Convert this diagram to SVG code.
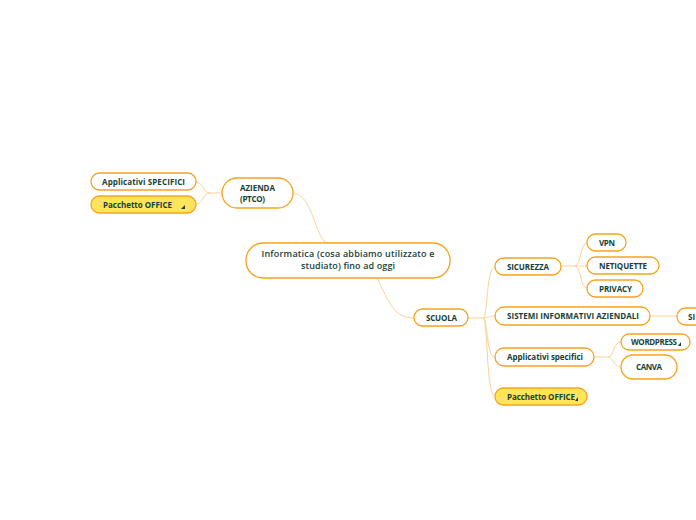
<svg xmlns="http://www.w3.org/2000/svg" width="696" height="520" viewBox="0 0 696 520">
<defs>
<style>
.n{fill:#ffffff;stroke:#f7a21c;stroke-width:1.3}
.y{fill:#ffe45c;stroke:#f7a21c;stroke-width:1.3}
.t{font-family:"Open Sans","Noto Sans",sans-serif;font-weight:700;font-size:8px;fill:#183f39}
.tc{font-family:"Open Sans","Noto Sans",sans-serif;font-weight:600;font-size:9px;fill:#183f39}
.c{fill:none;stroke:#fdd198;stroke-width:1}
.ic{fill:#183f39}
</style>
</defs>
<rect width="696" height="520" fill="#ffffff"/>
<g id="connectors">
<path class="c" d="M293,193 C312,193 316,240 327,243"/>
<path class="c" d="M377,278 C390,305 395,318 414,318"/>
<path class="c" d="M222,193 L210,193 C203,193 203,182 196,182"/>
<path class="c" d="M210,193 C203,193 203,204 196,204"/>
<path class="c" d="M468,318 L483,318 C488,318 486,267 495,267"/>
<path class="c" d="M483,318 C488,318 488,316 495,316"/>
<path class="c" d="M483,318 C488,318 486,357 495,357"/>
<path class="c" d="M483,318 C488,318 486,396 495,396"/>
<path class="c" d="M561,266 L575,266 C581,266 580,243 587,243"/>
<path class="c" d="M575,266 L587,266"/>
<path class="c" d="M575,266 C581,266 580,288 587,288"/>
<path class="c" d="M650,316 L677,316"/>
<path class="c" d="M594,357 L608,357 C614,357 613,342 621,342"/>
<path class="c" d="M608,357 C614,357 613,367 621,367"/>
</g>
<g id="central">
<rect class="n" x="246" y="243" width="204" height="35" rx="17"/>
<text class="tc" x="348" y="257" text-anchor="middle" textLength="173">Informatica (cosa abbiamo utilizzato e</text>
<text class="tc" x="348" y="269" text-anchor="middle" textLength="94">studiato) fino ad oggi</text>
</g>
<g id="azienda">
<rect class="n" x="222" y="178" width="71" height="30" rx="15"/>
<text class="t" x="240" y="191" textLength="35">AZIENDA</text>
<text class="t" x="240" y="202" textLength="25">(PTCO)</text>
</g>
<g id="applicativi-specifici-az">
<rect class="n" x="91" y="173" width="105" height="17" rx="8.5"/>
<text class="t" x="102" y="185" textLength="83">Applicativi SPECIFICI</text>
</g>
<g id="pacchetto-office-az">
<rect class="y" x="91" y="196" width="105" height="17" rx="8.5"/>
<text class="t" x="103" y="208" textLength="69">Pacchetto OFFICE</text>
<polygon class="ic" points="185,205 185,209 181,209"/>
</g>
<g id="scuola">
<rect class="n" x="414" y="309" width="54" height="17" rx="8.5"/>
<text class="t" x="426" y="321" textLength="31">SCUOLA</text>
</g>
<g id="sicurezza">
<rect class="n" x="495" y="258" width="66" height="17" rx="8.5"/>
<text class="t" x="507" y="270" textLength="42">SICUREZZA</text>
</g>
<g id="vpn">
<rect class="n" x="587" y="234" width="39" height="17" rx="8.5"/>
<text class="t" x="599" y="246" textLength="16">VPN</text>
</g>
<g id="netiquette">
<rect class="n" x="587" y="257" width="72" height="17" rx="8.5"/>
<text class="t" x="599" y="269" textLength="48">NETIQUETTE</text>
</g>
<g id="privacy">
<rect class="n" x="587" y="280" width="56" height="17" rx="8.5"/>
<text class="t" x="599" y="292" textLength="33">PRIVACY</text>
</g>
<g id="sistemi">
<rect class="n" x="495" y="307" width="155" height="18" rx="9"/>
<text class="t" x="507" y="319" textLength="132">SISTEMI INFORMATIVI AZIENDALI</text>
</g>
<g id="si">
<rect class="n" x="677" y="308" width="60" height="17" rx="8.5"/>
<text class="t" x="688" y="320">SI</text>
</g>
<g id="applicativi-specifici">
<rect class="n" x="495" y="348" width="99" height="18" rx="9"/>
<text class="t" x="507" y="360" textLength="76">Applicativi specifici</text>
</g>
<g id="wordpress">
<rect class="n" x="621" y="334" width="69" height="16" rx="8"/>
<text class="t" x="631" y="345" textLength="46">WORDPRESS</text>
<polygon class="ic" points="681,342 681,346 678,346"/>
</g>
<g id="canva">
<rect class="n" x="621" y="355" width="56" height="24" rx="12"/>
<text class="t" x="636" y="370" textLength="26">CANVA</text>
</g>
<g id="pacchetto-office">
<rect class="y" x="495" y="388" width="92" height="17" rx="8.5"/>
<text class="t" x="507" y="400" textLength="68">Pacchetto OFFICE</text>
<polygon class="ic" points="578,397 578,401 575,401"/>
</g>
</svg>
